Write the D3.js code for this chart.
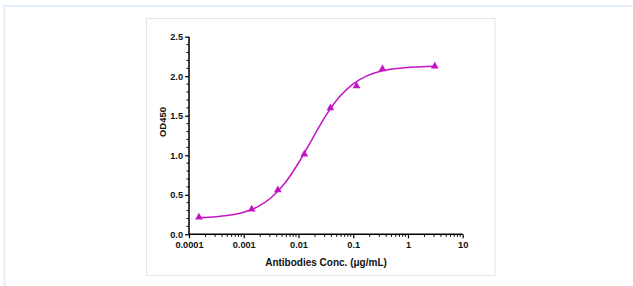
<!DOCTYPE html>
<html>
<head>
<meta charset="utf-8">
<script src="https://cdn.jsdelivr.net/npm/d3@7"></script>
<style>
  html, body { margin: 0; padding: 0; background: #fff; }
  svg { display: block; }
  text { font-family: "Liberation Sans", Arial, sans-serif; font-weight: bold; fill: #111; }
</style>
</head>
<body>
<svg id="chart" width="633" height="286"></svg>
<script>
// Measured points
const concentrations = [0.000152, 0.0014, 0.0042, 0.0128, 0.0383, 0.115, 0.342, 3.09];
const od450 = [0.215, 0.316, 0.56, 1.012, 1.598, 1.876, 2.092, 2.126];
// Fitted curve
const curveConc = [0.000151, 0.000316, 0.000562, 0.001, 0.00178, 0.00316, 0.00562, 0.01, 0.0178, 0.0316, 0.0562, 0.1, 0.178, 0.316, 0.562, 1, 1.78, 3.09];
const curveOD = [0.210, 0.223, 0.243, 0.280, 0.347, 0.463, 0.645, 0.902, 1.205, 1.502, 1.740, 1.904, 2.004, 2.062, 2.094, 2.111, 2.120, 2.125];
const xTicks = [0.0001, 0.001, 0.01, 0.1, 1, 10];
const xTickLabels = ["0.0001", "0.001", "0.01", "0.1", "1", "10"];
const yTicks = [0, 0.5, 1.0, 1.5, 2.0, 2.5];
const xTitle = "Antibodies Conc. (μg/mL)";
const yTitle = "OD450";

const svg = d3.select("#chart");
const color = "#c414c4";

// outer frame
svg.append("rect").attr("x", 4.5).attr("y", 6).attr("width", 640).attr("height", 300)
  .attr("fill", "none").attr("stroke", "#e6f0fb").attr("stroke-width", 2);
// inner box
svg.append("rect").attr("x", 146.5).attr("y", 18.5).attr("width", 348.5).attr("height", 257)
  .attr("fill", "#fff").attr("stroke", "#e3e3e3").attr("stroke-width", 1);

const x = d3.scaleLog().domain([0.0001, 10]).range([189, 462.7]);
const y = d3.scaleLinear().domain([0, 2.5]).range([234.3, 36.7]);

// minor ticks
const xMinor = [];
for (let e = -4; e < 1; e++) for (let k = 2; k <= 9; k++) xMinor.push(k * Math.pow(10, e));
const yMinor = d3.range(0, 2.51, 0.1).filter(v => Math.abs(v * 2 - Math.round(v * 2)) > 1e-6);

const gx = svg.append("g").attr("transform", `translate(0,${y(0)})`);
gx.call(d3.axisBottom(x).tickValues(xTicks).tickFormat((d, i) => xTickLabels[i]).tickSize(4).tickPadding(3));
gx.selectAll(".minor").data(xMinor).enter().append("line")
  .attr("x1", d => x(d)).attr("x2", d => x(d)).attr("y1", 0).attr("y2", 2.5)
  .attr("stroke", "#000").attr("stroke-width", 1);

const gy = svg.append("g").attr("transform", `translate(${x(0.0001)},0)`);
gy.call(d3.axisLeft(y).tickValues(yTicks).tickFormat(d3.format(".1f")).tickSize(4).tickPadding(2));
gy.selectAll(".minor").data(yMinor).enter().append("line")
  .attr("x1", 0).attr("x2", -2.5).attr("y1", d => y(d)).attr("y2", d => y(d))
  .attr("stroke", "#000").attr("stroke-width", 1);

[gx, gy].forEach(g => {
  g.select(".domain").attr("stroke", "#000").attr("stroke-width", 1.5);
  g.selectAll(".tick line").attr("stroke", "#000").attr("stroke-width", 1.2);
  g.selectAll(".tick text").style("font-size", "9.2px").style("font-family", "Liberation Sans, Arial, sans-serif").style("font-weight", "bold").attr("fill", "#111");
});
gx.select(".domain").attr("d", `M${x(0.0001)},0H${x(10)}`);
gy.select(".domain").attr("d", `M0,${y(0)}V${y(2.5)}`);

// curve
const line = d3.line().x((d, i) => x(curveConc[i])).y((d, i) => y(curveOD[i])).curve(d3.curveMonotoneX);
svg.append("path").datum(curveOD).attr("d", line).attr("fill", "none")
  .attr("stroke", color).attr("stroke-width", 1.5);

// markers
const tri = d3.symbol().type(d3.symbolTriangle).size(26);
svg.selectAll(".pt").data(od450).enter().append("path")
  .attr("d", tri)
  .attr("transform", (d, i) => `translate(${x(concentrations[i])},${y(d)})`)
  .attr("fill", color);

// titles
svg.append("text").attr("x", 326).attr("y", 266).attr("text-anchor", "middle")
  .style("font-size", "10px").text(xTitle);
svg.append("text").attr("transform", `translate(166,122) rotate(-90)`).attr("text-anchor", "middle")
  .style("font-size", "9.5px").text(yTitle);
</script>
</body>
</html>
